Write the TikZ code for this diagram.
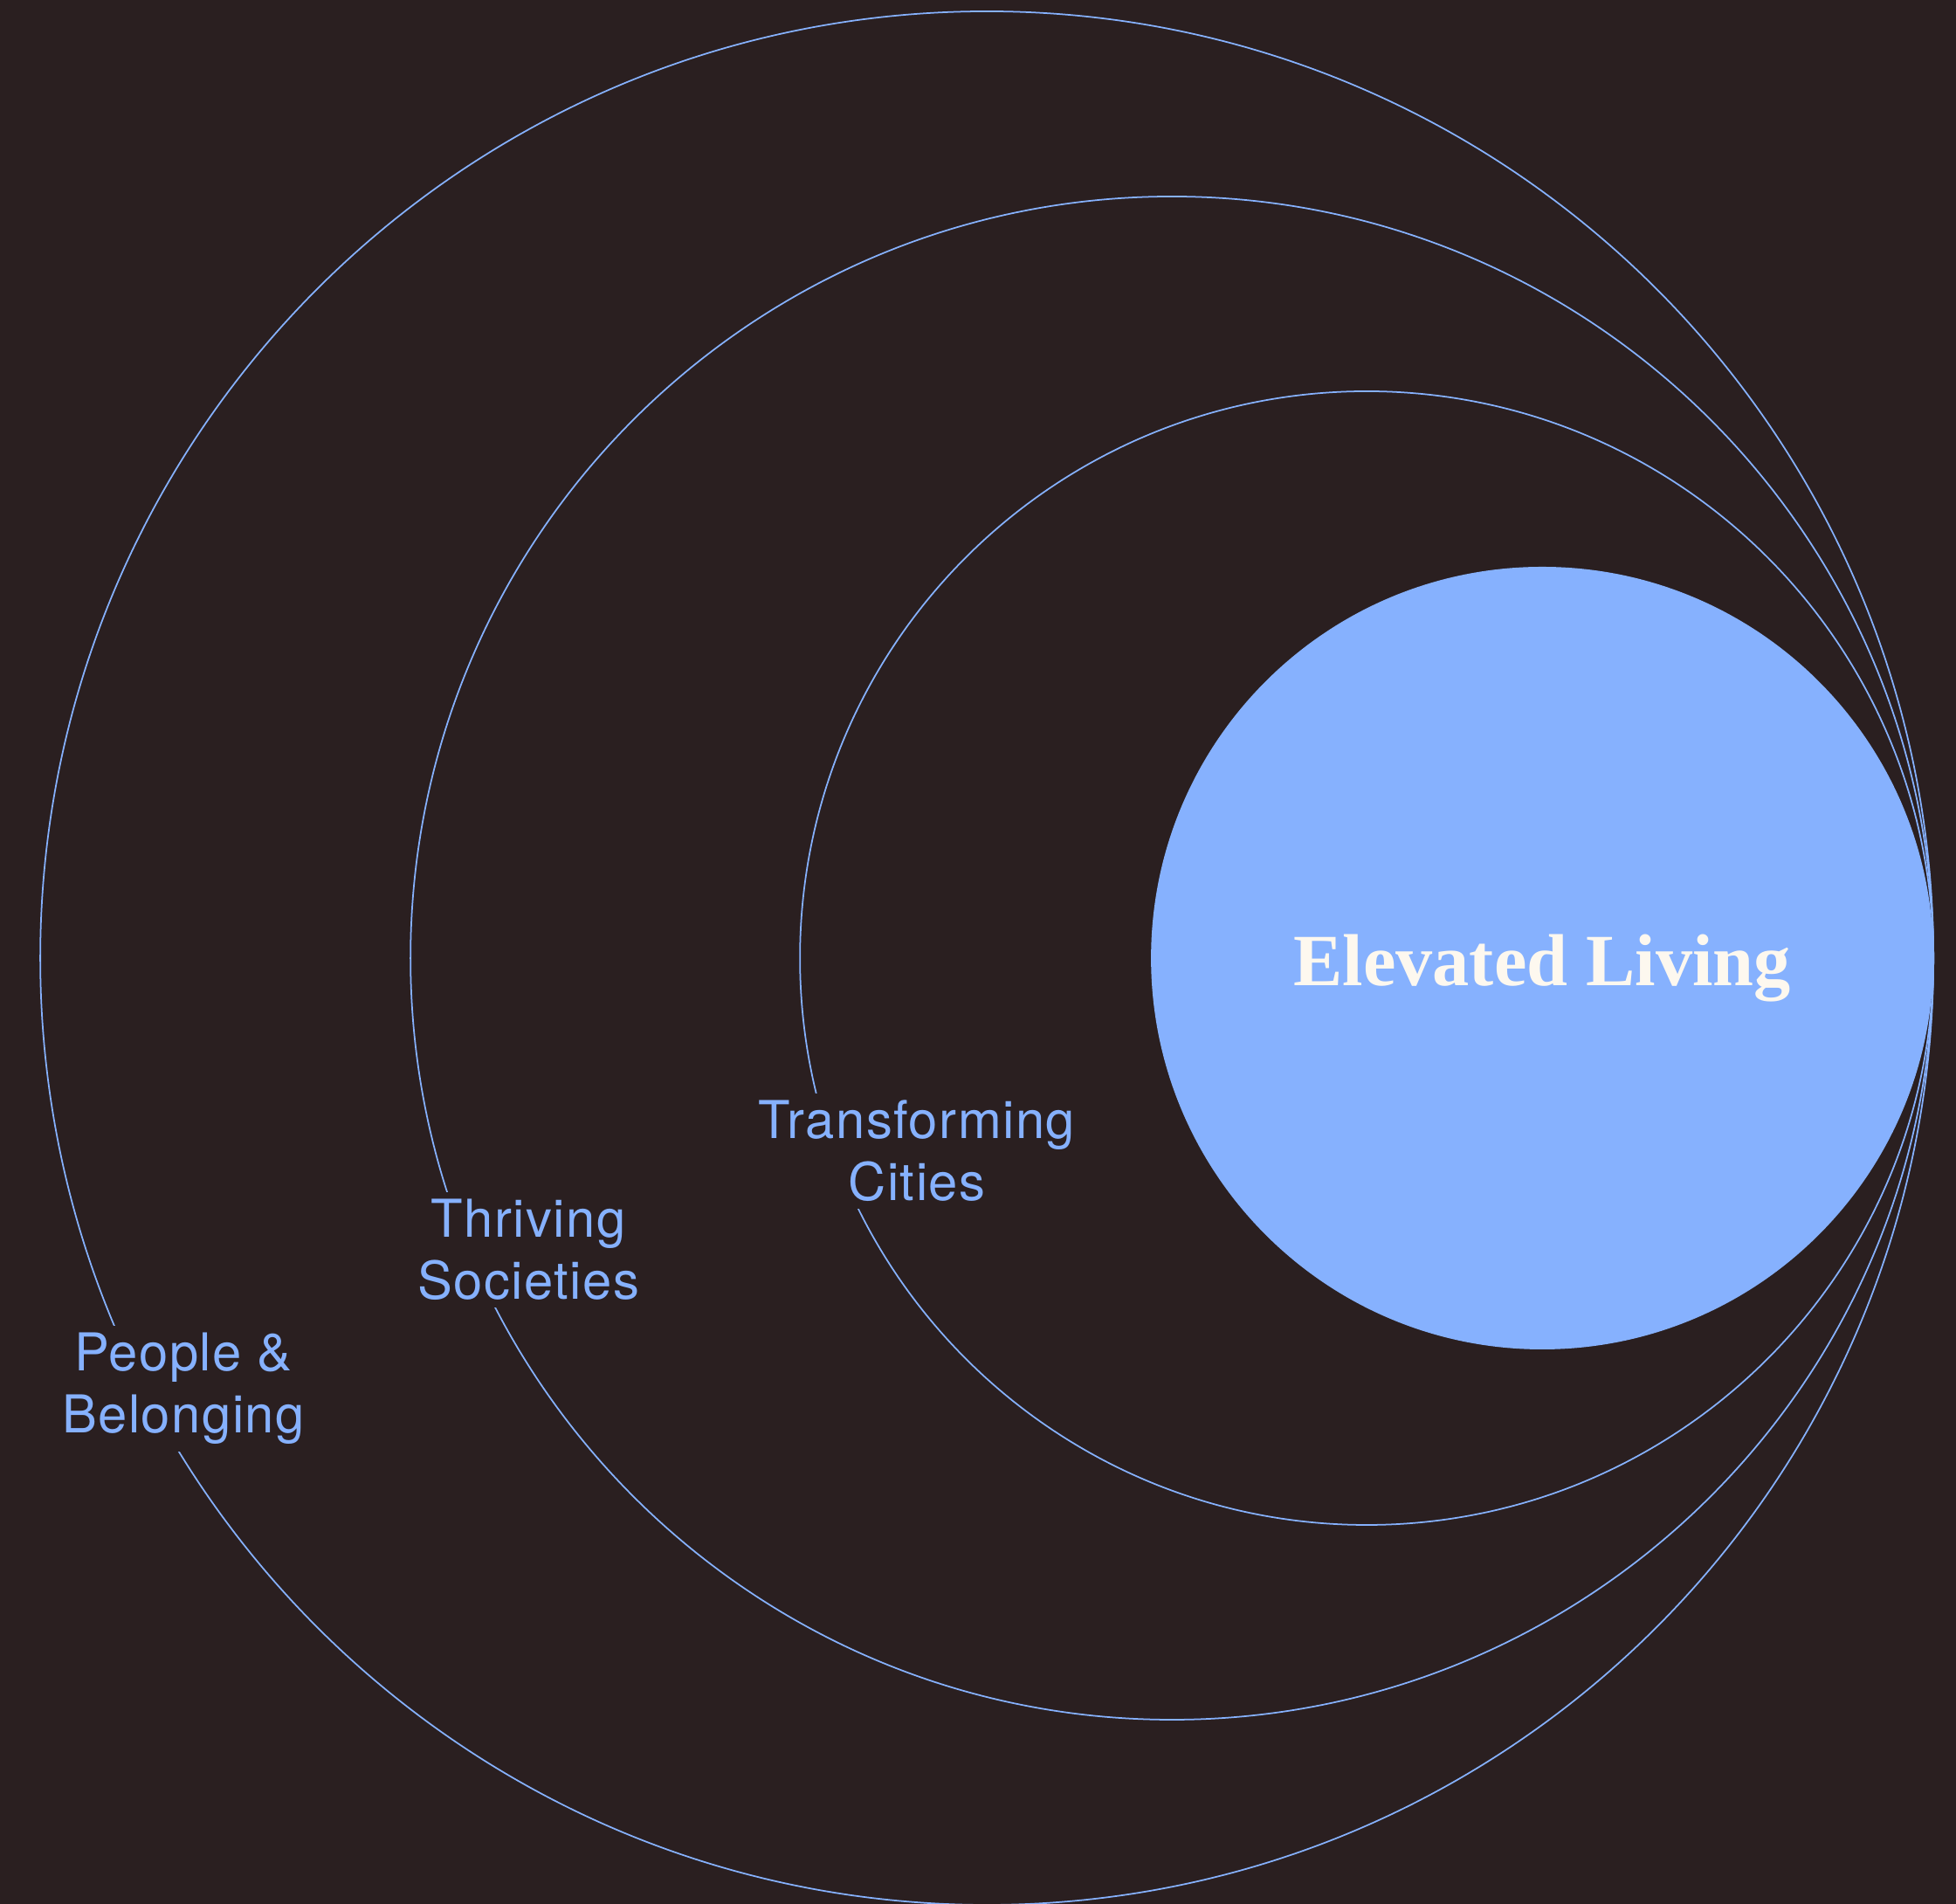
\documentclass[tikz,border=0pt]{standalone}
\usepackage{fontspec}
\setsansfont[LetterSpace=2.5]{TeX Gyre Heros}
\newfontfamily\titlefont{Liberation Serif}
\usetikzlibrary{positioning}

\definecolor{bg}{HTML}{2A1F20}
\definecolor{sky}{HTML}{86B1FE}
\definecolor{cream}{HTML}{FDF8EF}

\tikzset{
  ring/.style={circle,draw=sky,inner sep=0pt,anchor=east},
  ringtext/.style={fill=bg,text=sky,align=center,anchor=north,inner sep=0.08cm,
    font=\sffamily\fontsize{17}{20.3}\selectfont}
}

\begin{document}
\begin{tikzpicture}[line width=0.5pt]
\useasboundingbox[fill=bg] (0,0) rectangle (22.4,21.8);
\coordinate (tp) at (22.15,10.83);

\node[ring,minimum size=21.68cm] (c1) at (tp) {};
\node[ring,minimum size=17.44cm] (c2) at (tp) {};
\node[ring,minimum size=12.98cm] (c3) at (tp) {};
\node[circle,fill=sky,inner sep=0pt,minimum size=8.96cm,anchor=east] (core) at (tp) {};

\node[anchor=base,text=cream,font=\titlefont\bfseries\fontsize{24}{28}\selectfont] (title) at ([yshift=-3.2mm]core.center) {Elevated Living};

\node[ringtext] (t3) at (10.50,9.29) {Transforming\\Cities};
\node[ringtext] (t2) at (6.05,8.16) {Thriving\\Societies};
\node[ringtext] (t1) at (2.10,6.63) {People \&\\Belonging};
\end{tikzpicture}
\end{document}
